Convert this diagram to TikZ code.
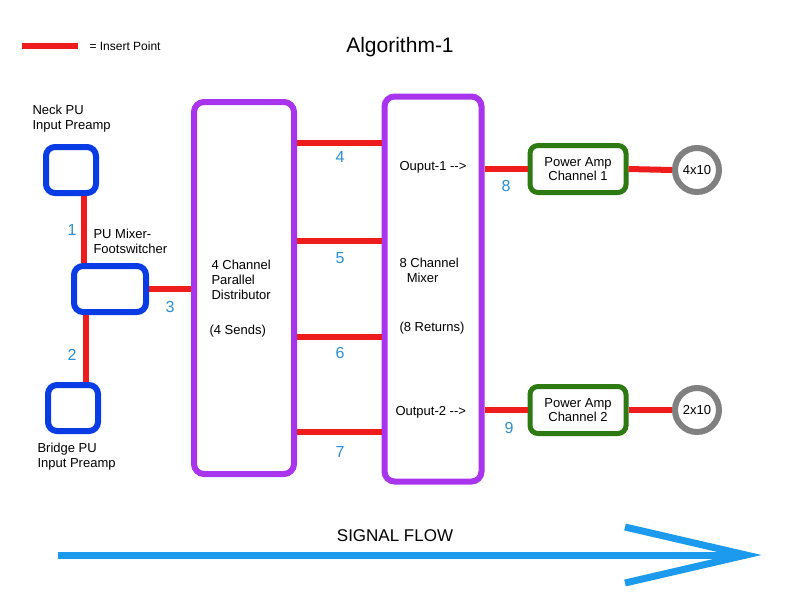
\documentclass[tikz,border=0pt]{standalone}
\usepackage{fontspec}
\setmainfont{Liberation Sans}
\usetikzlibrary{positioning}
\definecolor{publue}{HTML}{0A3CE6}
\definecolor{mixpurple}{HTML}{A834EE}
\definecolor{ampgreen}{HTML}{2E7A12}
\definecolor{insred}{HTML}{EE1C1C}
\definecolor{numblue}{HTML}{2A8FD6}
\definecolor{flowblue}{HTML}{1C9BEE}
\tikzset{
  pubox/.style={draw=publue, line width=6pt, rounded corners=9pt, minimum width=50pt, minimum height=46pt},
  chbox/.style={draw=mixpurple, line width=6pt, rounded corners=10pt},
  ampbox/.style={draw=ampgreen, line width=5pt, rounded corners=8pt, minimum width=96pt, minimum height=47pt, align=center, font=\fontsize{13}{14}\selectfont},
  spk/.style={circle, draw=gray, line width=6pt, minimum size=44pt, font=\fontsize{13}{14}\selectfont},
  insert/.style={insred, line width=6pt},
  num/.style={text=numblue, font=\fontsize{16}{16}\selectfont},
  txt/.style={align=left, font=\fontsize{13}{15}\selectfont}
}
\begin{document}
\begin{tikzpicture}[x=1pt,y=-1pt]
\useasboundingbox (0,0) rectangle (800,600);

% legend and title
\coordinate (legA) at (22,46);
\coordinate (legB) at (78,46);
\draw[insert] (legA) -- (legB);
\node[anchor=west, font=\fontsize{12}{12}\selectfont] (legtxt) at (86,46) {= Insert Point};
\node[font=\fontsize{21}{21}\selectfont] (title) at (400,47) {Algorithm-1};

% pickups
\node[pubox] (neck) at (71,170) {};
\node[pubox, minimum width=72pt] (mixer) at (110,289) {};
\node[pubox] (bridge) at (73,408) {};
\node[txt, anchor=west] (necktxt) at (29,119) {Neck PU\\Input Preamp};
\node[txt, anchor=west] (mixtxt) at (90,241) {PU Mixer-\\Footswitcher};
\node[txt, anchor=west] (bridgetxt) at (34,457) {Bridge PU\\Input Preamp};

% channel boxes
\node[chbox, minimum width=100pt, minimum height=372pt] (dist) at (244,288) {};
\node[chbox, minimum width=97pt, minimum height=385pt] (mix) at (433,289) {};
\node[txt, anchor=west] (disttxt) at (208,280) {4 Channel\\Parallel\\Distributor};
\node[txt, anchor=west] (sends) at (206,331) {(4 Sends)};
\node[txt, anchor=west] (out1) at (396,167) {Ouput-1 -{}->};
\node[txt, anchor=west] (mixtxt2) at (396,270) {8 Channel\\\ \ Mixer};
\node[txt, anchor=west] (returns) at (396,328) {(8 Returns)};
\node[txt, anchor=west] (out2) at (392,412) {Output-2 -{}->};

% amps and speakers
\node[ampbox] (amp1) at (578,169) {Power Amp\\Channel 1};
\node[ampbox] (amp2) at (578,410) {Power Amp\\Channel 2};
\node[spk] (cab1) at (697,170) {4x10};
\node[spk] (cab2) at (697,410) {2x10};

% insert points
\draw[insert] (neck.south -| 84,0) -- (mixer.north -| 84,0);
\draw[insert] (mixer.south -| 86,0) -- (bridge.north -| 86,0);
\draw[insert] (mixer.east) -- (dist.west |- mixer.east);
\foreach \y in {143,241,337,432}
  \draw[insert] (dist.east |- 0,\y) -- (mix.west |- 0,\y);
\draw[insert] (mix.east |- amp1.west) -- (amp1.west);
\draw[insert] (mix.east |- amp2.west) -- (amp2.west);
\draw[insert] (amp1.east) -- (cab1.west);
\draw[insert] (amp2.east) -- (cab2.west);

% numbers
\node[num] (n1) at (72,230) {1};
\node[num] (n2) at (72,355) {2};
\node[num] (n3) at (170,307) {3};
\node[num] (n4) at (340,157) {4};
\node[num] (n5) at (340,258) {5};
\node[num] (n6) at (340,353) {6};
\node[num] (n7) at (340,452) {7};
\node[num] (n8) at (506,186) {8};
\node[num] (n9) at (509,428) {9};

% signal flow
\coordinate (flowA) at (58,555);
\coordinate (flowB) at (746,555);
\draw[flowblue, line width=7pt] (flowA) -- (flowB);
\draw[flowblue, line width=7pt, line join=miter] (625,527) -- (flowB) -- (625,583);
\node[font=\fontsize{17}{17}\selectfont] (flowtxt) at (395,536) {SIGNAL FLOW};
\end{tikzpicture}
\end{document}
